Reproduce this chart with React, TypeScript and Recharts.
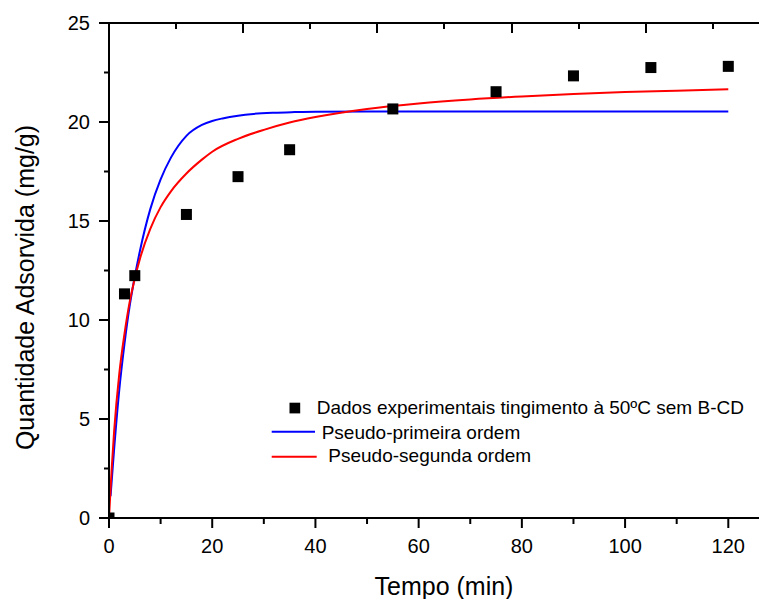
import {
  ComposedChart,
  Line,
  Scatter,
  XAxis,
  YAxis,
  Legend,
} from 'recharts';

// experimental points
const expTimes = [0, 3, 5, 15, 25, 35, 55, 75, 90, 105, 120];
const expValues = [0, 11.32, 12.24, 15.33, 17.24, 18.6, 20.66, 21.53, 22.33, 22.75, 22.81];

// pseudo-first order fit
const pfoTimes = [0.3, 1, 2, 3, 4, 5, 6, 8, 10, 12, 15, 18, 20, 22, 25, 28, 32, 36, 40, 50, 60, 80, 100, 120];
const pfoValues = [1.1, 3.5, 6.5, 8.8, 10.7, 12.2, 13.5, 15.6, 17.1, 18.2, 19.3, 19.85, 20.05, 20.18, 20.32, 20.41, 20.47, 20.5, 20.52, 20.53, 20.53, 20.53, 20.53, 20.53];

// pseudo-second order fit
const psoTimes = [0, 0.5, 1, 2, 3, 4, 5, 6, 8, 10, 12, 15, 18, 20, 25, 30, 35, 40, 50, 60, 70, 80, 90, 100, 110, 120];
const psoValues = [0, 2.4, 4.4, 7.3, 9.3, 10.9, 12.1, 13.1, 14.6, 15.7, 16.5, 17.4, 18.1, 18.5, 19.15, 19.6, 19.97, 20.25, 20.66, 20.94, 21.14, 21.29, 21.41, 21.51, 21.58, 21.65];

const xTicks = [0, 10, 20, 30, 40, 50, 60, 70, 80, 90, 100, 110, 120];
const yTicks = [0, 2.5, 5, 7.5, 10, 12.5, 15, 17.5, 20, 22.5, 25];
// ticks on the top frame sit at their own spacing (in minutes)
const topMinor = [13, 39, 65, 91, 117];
const topMajor = [26, 52, 78, 104];

const legendLabels = [
  'Dados experimentais tingimento à 50ºC sem B-CD',
  'Pseudo-primeira ordem',
  'Pseudo-segunda ordem',
];

const expData = expTimes.map((t, i) => ({ t, q: expValues[i] }));
const pfoData = pfoTimes.map((t, i) => ({ t, q: pfoValues[i] }));
const psoData = psoTimes.map((t, i) => ({ t, q: psoValues[i] }));

const FONT = '"Liberation Sans", Arial, sans-serif';
const W = 759;
const H = 591;
const PLOT_LEFT = 101;
const PLOT_TOP = 15;
const X_MAX = 127.5;
const px = (t: number) => PLOT_LEFT + (t * (W - PLOT_LEFT)) / X_MAX;

const BottomTick = (props: any) => {
  const { x, y, payload } = props;
  const major = payload.value % 20 === 0;
  return (
    <g>
      <line x1={x} x2={x} y1={y} y2={y + (major ? 10 : 6)} stroke="#000" strokeWidth={2} />
      {major && (
        <text x={x} y={y + 28} textAnchor="middle" dominantBaseline="central" fontSize={20} fill="#000" fontFamily={FONT}>
          {payload.value}
        </text>
      )}
    </g>
  );
};

const LeftTick = (props: any) => {
  const { x, y, payload } = props;
  const major = payload.value % 5 === 0;
  return (
    <g>
      <line x1={x} x2={x - (major ? 10 : 5)} y1={y} y2={y} stroke="#000" strokeWidth={2} />
      {major && (
        <text x={x - 19} y={y} textAnchor="end" dominantBaseline="central" fontSize={20} fill="#000" fontFamily={FONT}>
          {payload.value}
        </text>
      )}
    </g>
  );
};

const Square = (props: any) => {
  const { cx, cy } = props;
  return <rect x={cx - 5.5} y={cy - 5.5} width={11} height={11} fill="#000" />;
};

const renderLegend = () => (
  <svg width={W} height={H} style={{ position: 'absolute', left: 0, top: 0 }}>
    <rect x={281.5} y={394.7} width={10.7} height={10.7} fill="#000" />
    <text x={308.7} y={406.3} fontSize={19} fontFamily={FONT} fill="#000">{legendLabels[0]}</text>
    <line x1={263.7} x2={307} y1={423.7} y2={423.7} stroke="#0000ff" strokeWidth={2} />
    <text x={313.7} y={430.8} fontSize={19} fontFamily={FONT} fill="#000">{legendLabels[1]}</text>
    <line x1={263.7} x2={308.7} y1={448.7} y2={448.7} stroke="#ff0000" strokeWidth={2} />
    <text x={320.3} y={453.7} fontSize={19} fontFamily={FONT} fill="#000">{legendLabels[2]}</text>
  </svg>
);

const renderYTitle = () => (
  <text
    x={26}
    y={279.5}
    textAnchor="middle"
    fontSize={25}
    fontFamily={FONT}
    fill="#000"
    transform="rotate(-90, 26, 279.5)"
  >
    Quantidade Adsorvida (mg/g)
  </text>
);

// top frame line and its inward ticks, as plain html boxes
const TopFrame = () => (
  <>
    <div
      style={{
        position: 'absolute',
        left: PLOT_LEFT - 1,
        top: PLOT_TOP - 1,
        width: W - PLOT_LEFT + 1,
        height: 2,
        background: '#000',
        zIndex: 10,
      }}
    />
    {topMinor.map((t) => (
      <div
        key={'mi' + t}
        style={{ position: 'absolute', left: px(t) - 1, top: PLOT_TOP, width: 2, height: 6, background: '#000', zIndex: 10 }}
      />
    ))}
    {topMajor.map((t) => (
      <div
        key={'ma' + t}
        style={{ position: 'absolute', left: px(t) - 1, top: PLOT_TOP, width: 2, height: 10, background: '#000', zIndex: 10 }}
      />
    ))}
  </>
);

export default function App() {
  return (
    <div style={{ position: 'relative', width: W, height: H, fontFamily: FONT }}>
      <ComposedChart width={W} height={H} margin={{ top: PLOT_TOP, right: 0, left: 0, bottom: 21 }}>
        <XAxis
          xAxisId="bottom"
          type="number"
          dataKey="t"
          domain={[0, X_MAX]}
          ticks={xTicks}
          interval={0}
          allowDataOverflow
          height={60}
          tickSize={0}
          tickMargin={0}
          tickLine={false}
          tick={BottomTick}
          axisLine={{ stroke: '#000', strokeWidth: 2 }}
          label={{
            content: () => (
              <text x={436} y={586.5} textAnchor="middle" fontSize={25} fontFamily={FONT} fill="#000">
                Tempo (min)
              </text>
            ),
          }}
        />
        <YAxis
          type="number"
          domain={[0, 25]}
          ticks={yTicks}
          interval={0}
          allowDataOverflow
          width={PLOT_LEFT}
          tickSize={0}
          tickMargin={0}
          tickLine={false}
          tick={LeftTick}
          axisLine={{ stroke: '#000', strokeWidth: 2 }}
          label={{ content: renderYTitle }}
        />
        <Scatter xAxisId="bottom" data={expData} dataKey="q" shape={Square} isAnimationActive={false} />
        <Line
          xAxisId="bottom"
          data={pfoData}
          dataKey="q"
          type="monotone"
          stroke="#0000ff"
          strokeWidth={2}
          dot={false}
          isAnimationActive={false}
        />
        <Line
          xAxisId="bottom"
          data={psoData}
          dataKey="q"
          type="monotone"
          stroke="#ff0000"
          strokeWidth={2}
          dot={false}
          isAnimationActive={false}
        />
        <Legend
          layout="vertical"
          align="center"
          verticalAlign="middle"
          content={renderLegend}
          wrapperStyle={{ position: 'absolute', left: 0, top: 0, width: W, height: H, pointerEvents: 'none' }}
        />
      </ComposedChart>
      <TopFrame />
    </div>
  );
}
